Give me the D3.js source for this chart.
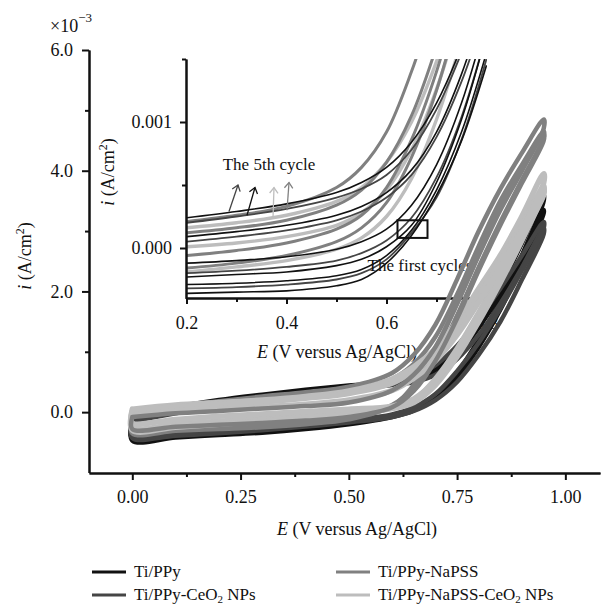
<!DOCTYPE html>
<html>
<head>
<meta charset="utf-8">
<script src="https://cdn.jsdelivr.net/npm/d3@7"></script>
<style>
  body { margin: 0; background: #fff; }
  svg text { font-family: "Liberation Serif", "DejaVu Serif", serif; fill: #111; }
</style>
</head>
<body>
<svg id="chart" width="609" height="607"></svg>
<script>
// series
const seriesNames = ["Ti/PPy", "Ti/PPy-CeO2 NPs", "Ti/PPy-NaPSS", "Ti/PPy-NaPSS-CeO2 NPs"];
const seriesColors = ["#111111", "#454545", "#808080", "#bdbdbd"];

// main plot, potential grid (V) and currents (x10^-3 A/cm2)
const mainE = [0, 0.1, 0.2, 0.3, 0.4, 0.5, 0.6, 0.65, 0.7, 0.75, 0.8, 0.85, 0.9, 0.95];

const ppyFwd1 = [-0.10, 0.08, 0.20, 0.29, 0.37, 0.44, 0.50, 0.56, 0.72, 1.02, 1.50, 2.10, 2.80, 3.60];
const ppyRev1 = [-0.47, -0.42, -0.38, -0.34, -0.28, -0.20, -0.08, 0.03, 0.25, 0.65, 1.20, 1.85, 2.60, 3.50];
const ppyFwd2 = [-0.05, 0.05, 0.16, 0.25, 0.33, 0.40, 0.47, 0.54, 0.68, 0.95, 1.40, 1.95, 2.60, 3.35];
const ppyRev2 = [-0.43, -0.39, -0.35, -0.31, -0.25, -0.17, -0.06, 0.05, 0.22, 0.58, 1.08, 1.70, 2.45, 3.30];

const ceoFwd1 = [-0.15, -0.02, 0.10, 0.20, 0.30, 0.38, 0.45, 0.50, 0.62, 0.88, 1.28, 1.80, 2.40, 3.05];
const ceoRev1 = [-0.43, -0.39, -0.35, -0.30, -0.24, -0.17, -0.08, 0.02, 0.20, 0.50, 0.95, 1.50, 2.20, 2.95];
const ceoFwd2 = [-0.10, 0.00, 0.12, 0.22, 0.31, 0.39, 0.48, 0.58, 0.78, 1.10, 1.55, 2.05, 2.60, 3.15];
const ceoRev2 = [-0.40, -0.36, -0.32, -0.27, -0.21, -0.14, -0.04, 0.08, 0.30, 0.68, 1.15, 1.72, 2.35, 3.05];

const pssFwd1 = [0.00, 0.10, 0.18, 0.26, 0.33, 0.42, 0.65, 0.95, 1.45, 2.20, 3.00, 3.70, 4.30, 4.85];
const pssRev1 = [-0.35, -0.31, -0.28, -0.25, -0.20, -0.12, 0.10, 0.45, 1.05, 1.80, 2.60, 3.35, 4.00, 4.70];
const pssFwd2 = [0.02, 0.08, 0.15, 0.22, 0.29, 0.37, 0.55, 0.80, 1.25, 1.95, 2.75, 3.50, 4.10, 4.65];
const pssRev2 = [-0.30, -0.27, -0.24, -0.21, -0.16, -0.09, 0.12, 0.40, 0.90, 1.60, 2.40, 3.15, 3.85, 4.55];
const pssFwd3 = [-0.08, -0.02, 0.02, 0.06, 0.10, 0.16, 0.36, 0.62, 1.08, 1.80, 2.62, 3.40, 4.05, 4.60];
const pssRev3 = [-0.28, -0.24, -0.21, -0.18, -0.14, -0.08, 0.08, 0.35, 0.85, 1.55, 2.35, 3.10, 3.80, 4.50];

const pssCeoFwd1 = [0.05, 0.12, 0.16, 0.20, 0.26, 0.35, 0.55, 0.75, 1.05, 1.50, 2.05, 2.60, 3.25, 3.95];
const pssCeoRev1 = [-0.25, -0.20, -0.15, -0.10, -0.05, 0.00, 0.08, 0.20, 0.55, 1.05, 1.65, 2.30, 3.00, 3.80];
const pssCeoFwd2 = [0.02, 0.09, 0.13, 0.17, 0.23, 0.31, 0.48, 0.68, 0.95, 1.38, 1.92, 2.50, 3.10, 3.75];
const pssCeoRev2 = [-0.30, -0.25, -0.20, -0.15, -0.09, -0.03, 0.06, 0.16, 0.45, 0.92, 1.50, 2.15, 2.85, 3.65];
const pssCeoFwd3 = [-0.05, 0.02, 0.06, 0.09, 0.13, 0.20, 0.36, 0.56, 0.85, 1.28, 1.82, 2.40, 3.02, 3.70];
const pssCeoRev3 = [-0.18, -0.12, -0.07, -0.03, 0.01, 0.05, 0.10, 0.22, 0.52, 1.00, 1.58, 2.22, 2.92, 3.60];

// inset, potential grid (V) and currents (x10^-3 A/cm2)
const insetE = [0.2, 0.3, 0.4, 0.5, 0.55, 0.6, 0.65, 0.7, 0.75, 0.8];

const ppyInset = [
  [0.24, 0.29, 0.35, 0.44, 0.52, 0.64, 0.84, 1.15, 1.60, 2.20],
  [0.09, 0.13, 0.18, 0.26, 0.33, 0.44, 0.62, 0.92, 1.38, 2.00],
  [-0.12, -0.10, -0.07, -0.01, 0.05, 0.15, 0.34, 0.66, 1.15, 1.82],
  [-0.23, -0.21, -0.19, -0.14, -0.09, 0.01, 0.18, 0.52, 1.02, 1.70],
  [-0.29, -0.28, -0.26, -0.22, -0.17, -0.06, 0.14, 0.46, 0.92, 1.55],
  [-0.36, -0.35, -0.34, -0.30, -0.25, -0.12, 0.10, 0.42, 0.85, 1.45]
];
const ceoInset = [
  [0.20, 0.25, 0.31, 0.40, 0.47, 0.58, 0.78, 1.10, 1.55, 2.10],
  [0.05, 0.09, 0.14, 0.22, 0.29, 0.40, 0.58, 0.88, 1.32, 1.90],
  [-0.20, -0.18, -0.15, -0.10, -0.04, 0.06, 0.24, 0.56, 1.04, 1.70],
  [-0.32, -0.31, -0.29, -0.25, -0.20, -0.09, 0.12, 0.40, 0.86, 1.50]
];
const pssInset = [
  [0.21, 0.26, 0.33, 0.48, 0.64, 0.92, 1.40, 2.00, 2.60, 3.10],
  [0.12, 0.16, 0.22, 0.34, 0.46, 0.68, 1.05, 1.60, 2.30, 2.90],
  [-0.06, -0.02, 0.04, 0.15, 0.26, 0.48, 0.86, 1.40, 2.10, 2.80],
  [-0.16, -0.12, -0.06, 0.05, 0.16, 0.36, 0.72, 1.25, 1.95, 2.70]
];
const pssCeoInset = [
  [0.16, 0.20, 0.26, 0.37, 0.48, 0.68, 1.00, 1.48, 2.10, 2.80],
  [0.01, 0.04, 0.09, 0.18, 0.28, 0.46, 0.78, 1.26, 1.90, 2.60],
  [-0.19, -0.15, -0.10, -0.01, 0.08, 0.25, 0.55, 1.02, 1.65, 2.40]
];

// annotations in inset data units: [E tail, i tail, E head, i head]
const cycleArrows = [
  [0.285, 0.29, 0.303, 0.50],
  [0.321, 0.26, 0.337, 0.48],
  [0.373, 0.24, 0.375, 0.48],
  [0.401, 0.30, 0.405, 0.52]
];
const arrowColors = ["#444444", "#111111", "#bdbdbd", "#808080"];
const firstCycleBox = [0.622, 0.08, 0.682, 0.22];

const mainXTicks = [0, 0.25, 0.5, 0.75, 1.0];
const mainXMinor = [0.125, 0.375, 0.625, 0.875];
const mainYTicks = [0, 2, 4, 6];
const mainYMinor = [1, 3, 5];
const insetXTicks = [0.2, 0.4, 0.6, 0.8];
const insetXMinor = [0.3, 0.5, 0.7];
const insetYTicks = [0, 1];
const insetYMinor = [0.5, 1.5];

const svg = d3.select("#chart");

// scales
const x = d3.scaleLinear().domain([-0.1, 1.08]).range([89, 600]);
const y = d3.scaleLinear().domain([-1, 6]).range([472.5, 50]);
const xi = d3.scaleLinear().domain([0.2, 0.8]).range([186.5, 486.5]);
const yi = d3.scaleLinear().domain([-0.4, 1.5]).range([298.4, 59]);

function styleAxis(g, size) {
  g.attr("font-family", null).attr("font-size", null);
  g.select(".domain").attr("stroke", "#111").attr("stroke-width", 2);
  g.selectAll(".tick line").attr("stroke", "#111").attr("stroke-width", 2);
  g.selectAll(".tick text").attr("fill", "#111").style("font-size", size + "px");
}

// ---- inset ----
svg.append("clipPath").attr("id", "insetClip")
  .append("rect").attr("x", 187).attr("y", 59).attr("width", 300).attr("height", 239);

const insetLine = d3.line()
  .x((d) => xi(d[0]))
  .y((d) => yi(d[1]))
  .curve(d3.curveCatmullRom);

const insetSets = [ppyInset, ceoInset, pssInset, pssCeoInset];
const insetWidths = [1.6, 1.8, 3, 3.4];
const insetG = svg.append("g").attr("clip-path", "url(#insetClip)");
[3, 2, 1, 0].forEach((s) => {
  insetSets[s].forEach((vals) => {
    insetG.append("path")
      .datum(vals.map((v, k) => [insetE[k], v]))
      .attr("fill", "none")
      .attr("stroke", seriesColors[s])
      .attr("stroke-width", insetWidths[s])
      .attr("d", insetLine);
  });
});

// inset axes
svg.append("g").attr("transform", "translate(0,298)")
  .call(d3.axisBottom(xi).tickValues(insetXMinor).tickSize(4).tickFormat("").tickSizeOuter(0))
  .call((g) => styleAxis(g, 17));
svg.append("g").attr("transform", "translate(0,298)")
  .call(d3.axisBottom(xi).tickValues(insetXTicks).tickSize(6).tickPadding(12)
    .tickFormat(d3.format(".1f")).tickSizeOuter(0))
  .call((g) => styleAxis(g, 18));
svg.append("g").attr("transform", "translate(186,0)")
  .call(d3.axisLeft(yi).tickValues(insetYMinor).tickSize(4).tickFormat("").tickSizeOuter(0))
  .call((g) => styleAxis(g, 17));
svg.append("g").attr("transform", "translate(186,0)")
  .call(d3.axisLeft(yi).tickValues(insetYTicks).tickSize(6).tickPadding(8)
    .tickFormat((d) => (d / 1000).toFixed(3)).tickSizeOuter(0))
  .call((g) => styleAxis(g, 18));

// inset labels
const insetXLabel = svg.append("text").attr("x", 337).attr("y", 358)
  .attr("text-anchor", "middle").style("font-size", "18px");
insetXLabel.append("tspan").style("font-style", "italic").text("E");
insetXLabel.append("tspan").text(" (V versus Ag/AgCl)");

const insetYLabel = svg.append("text")
  .attr("transform", "translate(114,172) rotate(-90)")
  .attr("text-anchor", "middle").style("font-size", "18px");
insetYLabel.append("tspan").style("font-style", "italic").text("i");
insetYLabel.append("tspan").text(" (A/cm");
insetYLabel.append("tspan").attr("dy", -7).style("font-size", "12px").text("2");
insetYLabel.append("tspan").attr("dy", 7).text(")");

// inset annotations
svg.append("text").attr("x", 269).attr("y", 170).attr("text-anchor", "middle")
  .style("font-size", "17px").text("The 5th cycle");
svg.append("text").attr("x", 420).attr("y", 271).attr("text-anchor", "middle")
  .style("font-size", "17px").text("The first cycles");

cycleArrows.forEach((a, k) => {
  const x0 = xi(a[0]), y0 = yi(a[1]), x1 = xi(a[2]), y1 = yi(a[3]);
  const ang = Math.atan2(y1 - y0, x1 - x0);
  const h = 7;
  const g = svg.append("g").attr("stroke", arrowColors[k]).attr("stroke-width", 1.3).attr("fill", "none");
  g.append("line").attr("x1", x0).attr("y1", y0).attr("x2", x1).attr("y2", y1);
  g.append("path").attr("d",
    `M${x1 + h * Math.cos(ang + 2.5)},${y1 + h * Math.sin(ang + 2.5)}L${x1},${y1}L${x1 + h * Math.cos(ang - 2.5)},${y1 + h * Math.sin(ang - 2.5)}`);
});

svg.append("rect")
  .attr("x", xi(firstCycleBox[0])).attr("y", yi(firstCycleBox[3]))
  .attr("width", xi(firstCycleBox[2]) - xi(firstCycleBox[0]))
  .attr("height", yi(firstCycleBox[1]) - yi(firstCycleBox[3]))
  .attr("fill", "none").attr("stroke", "#111").attr("stroke-width", 2);

// ---- main curves ----
const mainLine = d3.line()
  .x((d) => x(d[0]))
  .y((d) => y(d[1]))
  .curve(d3.curveCatmullRom);

const mainLoops = [
  { s: 0, fwd: ppyFwd1, rev: ppyRev1 },
  { s: 0, fwd: ppyFwd2, rev: ppyRev2 },
  { s: 1, fwd: ceoFwd1, rev: ceoRev1 },
  { s: 1, fwd: ceoFwd2, rev: ceoRev2 },
  { s: 2, fwd: pssFwd1, rev: pssRev1 },
  { s: 2, fwd: pssFwd2, rev: pssRev2 },
  { s: 3, fwd: pssCeoFwd1, rev: pssCeoRev1 },
  { s: 3, fwd: pssCeoFwd2, rev: pssCeoRev2 },
  { s: 3, fwd: pssCeoFwd3, rev: pssCeoRev3 },
  { s: 2, fwd: pssFwd3, rev: pssRev3 }
];
const mainWidths = [4.5, 4.5, 4.5, 5.5];

mainLoops.forEach((loop) => {
  const pts = loop.fwd.map((v, k) => [mainE[k], v]);
  const back = loop.rev.map((v, k) => [mainE[k], v]).reverse();
  const all = pts.concat(back, [pts[0]]);
  svg.append("path")
    .datum(all)
    .attr("fill", "none")
    .attr("stroke", seriesColors[loop.s])
    .attr("stroke-width", mainWidths[loop.s])
    .attr("stroke-linejoin", "round")
    .attr("stroke-linecap", "round")
    .attr("d", mainLine);
});

// ---- main axes ----
svg.append("g").attr("transform", "translate(0,473)")
  .call(d3.axisBottom(x).tickValues(mainXMinor).tickSize(4).tickFormat("").tickSizeOuter(0))
  .call((g) => styleAxis(g, 18));
svg.append("g").attr("transform", "translate(0,473)")
  .call(d3.axisBottom(x).tickValues(mainXTicks).tickSize(7).tickPadding(10)
    .tickFormat(d3.format(".2f")).tickSizeOuter(0))
  .call((g) => styleAxis(g, 18));
svg.append("g").attr("transform", "translate(89,0)")
  .call(d3.axisLeft(y).tickValues(mainYMinor).tickSize(4).tickFormat("").tickSizeOuter(0))
  .call((g) => styleAxis(g, 18));
svg.append("g").attr("transform", "translate(89,0)")
  .call(d3.axisLeft(y).tickValues(mainYTicks).tickSize(7).tickPadding(9)
    .tickFormat(d3.format(".1f")).tickSizeOuter(0))
  .call((g) => styleAxis(g, 18));

// exponent
const expo = svg.append("text").attr("x", 50).attr("y", 32).style("font-size", "18px");
expo.append("tspan").text("×10");
expo.append("tspan").attr("dy", -10).style("font-size", "13px").text("−3");

// main labels
const xLabel = svg.append("text").attr("x", 357).attr("y", 535)
  .attr("text-anchor", "middle").style("font-size", "18px");
xLabel.append("tspan").style("font-style", "italic").text("E");
xLabel.append("tspan").text(" (V versus Ag/AgCl)");

const yLabel = svg.append("text")
  .attr("transform", "translate(31,256) rotate(-90)")
  .attr("text-anchor", "middle").style("font-size", "18px");
yLabel.append("tspan").style("font-style", "italic").text("i");
yLabel.append("tspan").text(" (A/cm");
yLabel.append("tspan").attr("dy", -7).style("font-size", "12px").text("2");
yLabel.append("tspan").attr("dy", 7).text(")");

// ---- legend ----
const legend = svg.append("g");
seriesNames.forEach((name, k) => {
  const col = Math.floor(k / 2), row = k % 2;
  const lx = col === 0 ? 92 : 336;
  const ly = row === 0 ? 572 : 595;
  legend.append("line")
    .attr("x1", lx).attr("x2", lx + 34).attr("y1", ly).attr("y2", ly)
    .attr("stroke", seriesColors[k]).attr("stroke-width", 3);
  const t = legend.append("text").attr("x", lx + 42).attr("y", ly + 5).style("font-size", "17px");
  const parts = name.split("CeO2");
  if (parts.length === 2) {
    t.append("tspan").text(parts[0] + "CeO");
    t.append("tspan").attr("dy", 3).style("font-size", "11px").text("2");
    t.append("tspan").attr("dy", -3).text(parts[1]);
  } else {
    t.text(name);
  }
});
</script>
</body>
</html>
